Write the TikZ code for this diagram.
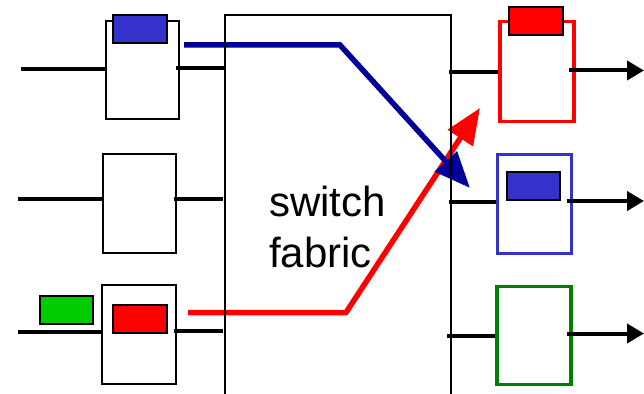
\documentclass[tikz,border=0pt]{standalone}
\usepackage{fontspec}
\setmainfont{Liberation Sans}
\usetikzlibrary{arrows.meta}
\definecolor{pktblue}{HTML}{3333CC}
\definecolor{arrblue}{HTML}{000099}
\definecolor{pktred}{HTML}{FF0000}
\definecolor{pktgreen}{HTML}{00CC00}
\definecolor{outgreen}{HTML}{008000}
\tikzset{
  port/.style={draw=black, line width=2pt, fill=white, inner sep=0pt},
  pkt/.style={draw=black, line width=2pt, inner sep=0pt, minimum width=54pt, minimum height=28pt},
  stub/.style={draw=black, line width=4pt},
  outarr/.style={draw=black, line width=4pt, -{Triangle[length=17pt,width=19pt]}},
  flow/.style={line width=5.5pt, line join=miter, -{Triangle[length=36pt,width=29pt]}},
}
\begin{document}
\begin{tikzpicture}[x=1pt,y=-1pt]
\useasboundingbox (0,0) rectangle (644,393);
% input ports
\node[port, minimum width=73pt, minimum height=98pt] (in1) at (142.5,70) {};
\node[port, minimum width=73pt, minimum height=99pt] (in2) at (139.5,203.5) {};
\node[port, minimum width=74pt, minimum height=99pt] (in3) at (139,334) {};
\node[pkt, fill=pktblue] (p1) at (140,29.5) {};
\node[pkt, fill=pktred] (p3) at (139.5,318.5) {};
\node[pkt, fill=pktgreen, minimum width=53pt] (p3g) at (66.5,310) {};
% output ports
\node[port, draw=pktred, line width=3.5pt, minimum width=74pt, minimum height=100pt] (out1) at (537,71.5) {};
\node[port, draw=pktblue, line width=3.5pt, minimum width=74pt, minimum height=99pt] (out2) at (534.5,204) {};
\node[port, draw=outgreen, line width=3.5pt, minimum width=74pt, minimum height=98pt] (out3) at (534,335.5) {};
\node[pkt, fill=pktred] (q1) at (536,21.5) {};
\node[pkt, fill=pktblue, minimum width=53pt] (q2) at (533.5,186) {};
% fabric coordinates
\coordinate (fl) at (225,15);
\coordinate (fr) at (451,400);
% stubs into fabric
\draw[stub] (21,69) -- (in1.west |- 0,69);
\draw[stub] (176,68) -- (225,68);
\draw[stub] (18,199) -- (in2.west |- 0,199);
\draw[stub] (174,198.5) -- (223,198.5);
\draw[stub] (18,332) -- (in3.west |- 0,332);
\draw[stub] (174,331) -- (223,331);
\draw[stub] (449,72.5) -- (out1.west |- 0,72.5);
\draw[stub] (449,202) -- (out2.west |- 0,202);
\draw[stub] (447,335.5) -- (out3.west |- 0,335.5);
% output arrows
\coordinate (e1) at (644,70.5);
\coordinate (e2) at (644,201);
\coordinate (e3) at (644,333.5);
\draw[outarr] (569,70.5) -- (e1);
\draw[outarr] (567,201) -- (e2);
\draw[outarr] (567,333.5) -- (e3);
% flows
\coordinate (r0) at (188,312.5);
\coordinate (r1) at (346,312.5);
\coordinate (r2) at (480,108);
\coordinate (b0) at (184,45);
\coordinate (b1) at (340,45);
\coordinate (b2) at (470,188);
\draw[flow, draw=pktred] (r0) -- (r1) -- (r2);
\draw[flow, draw=arrblue] (b0) -- (b1) -- (b2);
% fabric
\draw[line width=1.5pt] (225,400) -- (fl) -- (451,15) -- (fr);
\node[align=left, anchor=west, inner sep=0pt, font=\fontsize{42}{51}\selectfont] (txt) at (269,227) {switch\\fabric};
\end{tikzpicture}
\end{document}
